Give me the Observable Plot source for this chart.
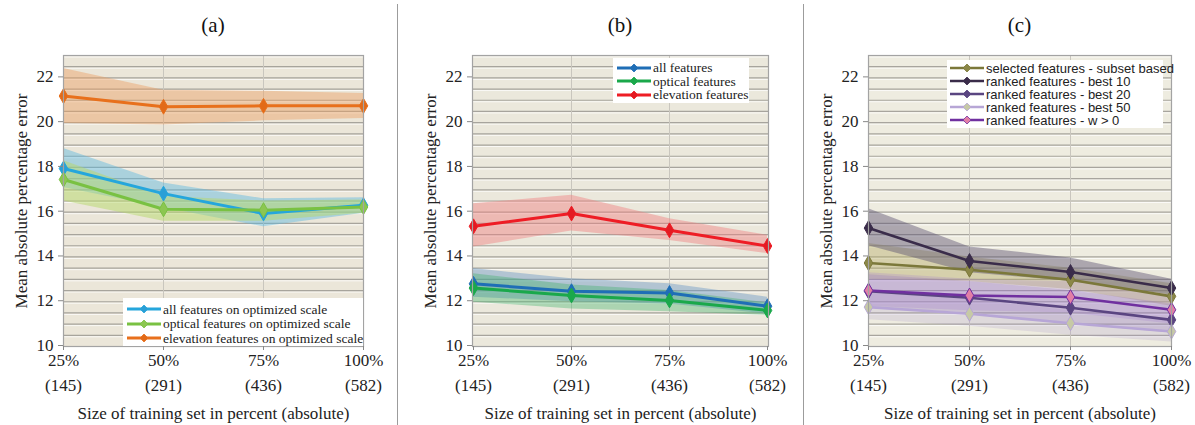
<!DOCTYPE html>
<html>
<head>
<meta charset="utf-8">
<script src="https://cdn.jsdelivr.net/npm/d3@7"></script>
<script src="https://cdn.jsdelivr.net/npm/@observablehq/plot@0.6"></script>
<style>
  html, body { margin: 0; padding: 0; background: #fff; }
  #wrap { position: relative; width: 1195px; height: 425px; overflow: hidden; font-family: "Liberation Serif", "Times New Roman", serif; }
  .panel { position: absolute; top: 0; height: 425px; }
  .panel svg { overflow: visible; font-family: "Liberation Serif", "Times New Roman", serif !important; }
  .panel svg text { font-family: "Liberation Serif", "Times New Roman", serif; }
  .sep { position: absolute; top: 4px; width: 1.5px; height: 421px; background: #9c9c9c; }
  .tag { position: absolute; top: 13px; font-size: 21px; transform: translateX(-50%); color: #111; }
  .legend { position: absolute; background: #fff; color: #222; }
  .legend .row { display: flex; align-items: center; white-space: nowrap; }
  .legend svg { flex: none; }
  .serif { font-family: "Liberation Serif", "Times New Roman", serif; }
  .sans { font-family: "Liberation Sans", Arial, sans-serif; }
</style>
</head>
<body>
<div id="wrap"></div>
<script>
// Training-set sizes shared by the three panels
const sizes = ["25%", "50%", "75%", "100%"];
const trainCounts = [145, 291, 436, 582];
const yTicks = [10, 12, 14, 16, 18, 20, 22];
const gridLevels = d3.range(10, 23.01, 0.5);

// (a) features on optimized scale: mean and spread
const aAllMean = [17.95, 16.83, 15.94, 16.31];
const aAllLow = [17.1, 16.2, 15.35, 15.95];
const aAllHigh = [18.85, 17.3, 16.6, 16.65];
const aOptMean = [17.46, 16.13, 16.09, 16.23];
const aOptLow = [16.5, 15.6, 15.6, 15.95];
const aOptHigh = [18.3, 16.7, 16.5, 16.55];
const aElevMean = [21.19, 20.71, 20.75, 20.75];
const aElevLow = [19.96, 19.9, 20.08, 20.19];
const aElevHigh = [22.42, 21.45, 21.4, 21.3];

// (b) feature groups
const bAllMean = [12.8, 12.47, 12.39, 11.8];
const bAllLow = [12.2, 12.0, 11.9, 11.45];
const bAllHigh = [13.48, 13.03, 12.8, 12.2];
const bOptMean = [12.61, 12.28, 12.06, 11.61];
const bOptLow = [11.98, 11.68, 11.55, 11.39];
const bOptHigh = [13.25, 12.75, 12.5, 11.95];
const bElevMean = [15.37, 15.94, 15.19, 14.49];
const bElevLow = [14.44, 15.16, 14.74, 14.15];
const bElevHigh = [16.38, 16.76, 15.71, 14.97];

// (c) selected and ranked feature sets
const cSubsetMean = [13.73, 13.43, 12.98, 12.24];
const cSubsetLow = [13.0, 12.9, 12.55, 11.8];
const cSubsetHigh = [14.6, 14.0, 13.5, 12.8];
const cBest10Mean = [15.29, 13.82, 13.33, 12.61];
const cBest10Low = [14.5, 13.3, 12.9, 12.3];
const cBest10High = [16.15, 14.45, 13.95, 13.0];
const cBest20Mean = [12.47, 12.18, 11.73, 11.19];
const cBest20Low = [11.75, 11.5, 11.0, 10.6];
const cBest20High = [13.2, 12.9, 12.5, 11.9];
const cBest50Mean = [11.76, 11.46, 11.04, 10.67];
const cBest50Low = [11.2, 10.9, 10.5, 10.2];
const cBest50High = [12.4, 12.1, 11.6, 11.2];
const cW0Mean = [12.5, 12.28, 12.21, 11.64];
const cW0Low = [11.8, 11.6, 11.5, 11.0];
const cW0High = [13.3, 13.0, 12.9, 12.3];

function rows(mean, low, high) {
  return sizes.map((s, i) => ({size: s, mean: mean[i], low: low[i], high: high[i]}));
}

function series(name, mean, low, high, line, marker, band, bandOpacity, width = 3) {
  return {name, data: rows(mean, low, high), line, marker, band, bandOpacity, width};
}

const panels = [
  {
    tag: "(a)", left: 0, width: 397, marginLeft: 63, marginRight: 34, bg: "#ebe6d9",
    series: [
      series("all features on optimized scale", aAllMean, aAllLow, aAllHigh, "#25a6dc", "#2a9fd6", "#5ab8e0", 0.45),
      series("optical features on optimized scale", aOptMean, aOptLow, aOptHigh, "#79c142", "#8cc651", "#b5d86a", 0.5),
      series("elevation features on optimized scale", aElevMean, aElevLow, aElevHigh, "#e8701c", "#e26a18", "#eca064", 0.45)
    ],
    legend: {left: 123, top: 298, width: 240, height: 48, cls: "serif", size: 13.5, rowH: 14.5, pad: "4px 0 0 4px"}
  },
  {
    tag: "(b)", left: 398, width: 405, marginLeft: 74, marginRight: 35, bg: "#ebe8dc",
    series: [
      series("all features", bAllMean, bAllLow, bAllHigh, "#1f6eb6", "#1f6eb6", "#6d98c6", 0.45),
      series("optical features", bOptMean, bOptLow, bOptHigh, "#1aa84b", "#1aa84b", "#35b060", 0.35),
      series("elevation features", bElevMean, bElevLow, bElevHigh, "#ee1d25", "#e41a22", "#f08080", 0.45)
    ],
    legend: {left: 613, top: 58, width: 136, height: 45, cls: "serif", size: 13.5, rowH: 13.5, pad: "3px 0 0 4px"}
  },
  {
    tag: "(c)", left: 804, width: 391, marginLeft: 64, marginRight: 24, bg: "#eeece0",
    series: [
      series("selected features - subset based", cSubsetMean, cSubsetLow, cSubsetHigh, "#7b783a", "#8b8747", "#b9b06c", 0.45, 2.6),
      series("ranked features - best 10", cBest10Mean, cBest10Low, cBest10High, "#3a2c4a", "#3a2c4a", "#5c5270", 0.45, 2.6),
      series("ranked features - best 20", cBest20Mean, cBest20Low, cBest20High, "#5a4581", "#5a4581", "#8c6cbc", 0.25, 2.6),
      series("ranked features - best 50", cBest50Mean, cBest50Low, cBest50High, "#b7a6d6", "#c6c9a6", "#a898c8", 0.22, 2.6),
      series("ranked features - w > 0", cW0Mean, cW0Low, cW0High, "#7030a0", "#e27fa6", "#a47cd0", 0.25, 2.6)
    ],
    legend: {left: 947, top: 60, width: 216, height: 68, cls: "sans", size: 13, rowH: 12.9, pad: "2px 0 0 3px"}
  }
];

const wrap = document.getElementById("wrap");

for (const p of panels) {
  const chart = Plot.plot({
    width: p.width,
    height: 425,
    marginLeft: p.marginLeft,
    marginRight: p.marginRight,
    marginTop: 55,
    marginBottom: 79,
    style: "font-family: 'Liberation Serif', 'Times New Roman', serif; font-size: 17px; background: transparent; color: #222;",
    x: {type: "point", domain: sizes, padding: 0},
    y: {domain: [10, 23]},
    marks: [
      Plot.frame({fill: p.bg, stroke: null}),
      Plot.ruleY(gridLevels, {stroke: "#ffffff", strokeWidth: 1, dy: 1.5, strokeOpacity: 0.75}),
      Plot.ruleY(gridLevels, {stroke: "#8a8781", strokeWidth: 1.2, strokeOpacity: 0.7}),
      Plot.ruleX(["50%", "75%"], {stroke: "#c9c6be", strokeWidth: 1}),
      ...p.series.map(s => Plot.areaY(s.data, {x: "size", y1: "low", y2: "high", fill: s.band, fillOpacity: s.bandOpacity})),
      ...p.series.map(s => Plot.lineY(s.data, {x: "size", y: "mean", stroke: s.line, strokeWidth: s.width})),
      ...p.series.map(s => Plot.dot(s.data, {x: "size", y: "mean", symbol: "diamond", r: 4.5, fill: s.marker, stroke: s.line, strokeWidth: 1})),
      Plot.frame({stroke: "#a3a3a3", strokeWidth: 1.2}),
      Plot.axisY({
        ticks: yTicks, tickSize: 5, tickPadding: 5, stroke: "#888", dy: -1,
        label: "Mean absolute percentage error", labelAnchor: "center", labelOffset: 49, labelArrow: "none"
      }),
      // tick marks only; the two-line tick labels are a text mark below
      Plot.axisX({tickSize: 4, stroke: "#888", text: null, label: null}),
      Plot.text(sizes, {
        x: d => d, frameAnchor: "bottom", lineAnchor: "top", dy: 2, lineHeight: 1.47,
        text: d => `${d}\n(${trainCounts[sizes.indexOf(d)]})`, fill: "#222"
      }),
      Plot.axisX({
        ticks: [], tickSize: 0,
        label: "Size of training set in percent (absolute)", labelAnchor: "center", labelOffset: 72, labelArrow: "none"
      })
    ]
  });
  const holder = document.createElement("div");
  holder.className = "panel";
  holder.style.left = p.left + "px";
  holder.style.width = p.width + "px";
  holder.appendChild(chart);
  wrap.appendChild(holder);

  const tag = document.createElement("div");
  tag.className = "tag";
  tag.style.left = (p.left + p.marginLeft + (p.width - p.marginLeft - p.marginRight) / 2) + "px";
  tag.textContent = p.tag;
  wrap.appendChild(tag);

  // legend box: line sample with diamond marker, then the series name
  const lg = p.legend;
  const box = document.createElement("div");
  box.className = "legend " + lg.cls;
  Object.assign(box.style, {
    left: lg.left + "px", top: lg.top + "px", width: lg.width + "px", height: lg.height + "px",
    fontSize: lg.size + "px", padding: lg.pad, boxSizing: "border-box"
  });
  for (const s of p.series) {
    const row = document.createElement("div");
    row.className = "row";
    row.style.height = lg.rowH + "px";
    row.innerHTML = `<svg width="34" height="10" viewBox="0 0 34 10">
      <line x1="0" x2="34" y1="5" y2="5" stroke="${s.line}" stroke-width="${s.width}"/>
      <path d="M17,1 L21,5 L17,9 L13,5 Z" fill="${s.marker}" stroke="${s.line}" stroke-width="0.8"/>
    </svg><span style="margin-left:2px;line-height:1">${s.name}</span>`;
    box.appendChild(row);
  }
  wrap.appendChild(box);
}

for (const x of [396.5, 802.5]) {
  const sep = document.createElement("div");
  sep.className = "sep";
  sep.style.left = x + "px";
  wrap.appendChild(sep);
}
</script>
</body>
</html>
